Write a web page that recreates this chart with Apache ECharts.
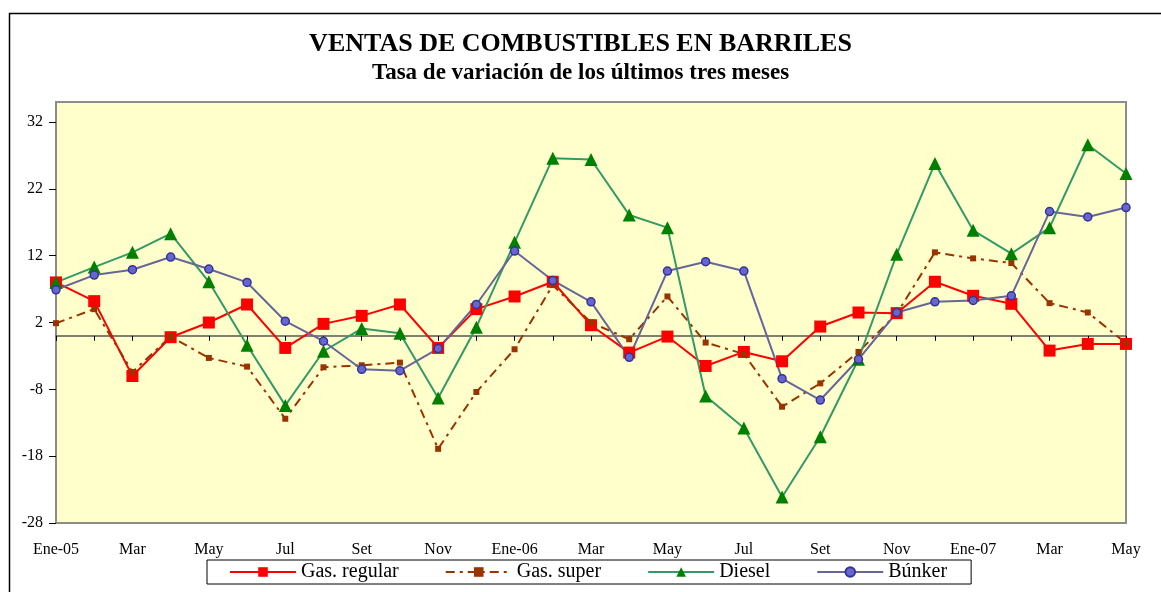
<!DOCTYPE html>
<html>
<head>
<meta charset="utf-8">
<script src="https://cdn.jsdelivr.net/npm/echarts@6/dist/echarts.min.js"></script>
<style>
html,body{margin:0;padding:0;background:#fff;}
#chart{width:1161px;height:592px;}
</style>
</head>
<body>
<div id="chart"></div>
<script>
const categories = ["Ene-05","Feb","Mar","Abr","May","Jun","Jul","Ago","Set","Oct","Nov","Dic",
  "Ene-06","Feb","Mar","Abr","May","Jun","Jul","Ago","Set","Oct","Nov","Dic",
  "Ene-07","Feb","Mar","Abr","May"];
const gasRegular = [8.0, 5.2, -6.0, -0.2, 2.0, 4.7, -1.8, 1.8, 3.0, 4.7,
  -1.8, 4.0, 5.9, 8.1, 1.6, -2.5, -0.1, -4.5, -2.4, -3.8,
  1.4, 3.5, 3.4, 8.1, 6.0, 4.8, -2.2, -1.2, -1.2];
const gasSuper = [1.9, 4.0, -5.4, -0.1, -3.3, -4.6, -12.4, -4.7, -4.4, -4.0,
  -16.9, -8.4, -2.0, 7.6, 2.0, -0.5, 5.9, -1.0, -2.7, -10.6,
  -7.1, -2.4, 3.3, 12.5, 11.6, 10.9, 4.9, 3.5, -1.1];
const diesel = [8.0, 10.3, 12.5, 15.3, 8.1, -1.4, -10.4, -2.3, 1.1, 0.4,
  -9.3, 1.3, 14.0, 26.6, 26.4, 18.1, 16.2, -9.0, -13.8, -24.1,
  -15.1, -3.5, 12.2, 25.8, 15.8, 12.3, 16.2, 28.6, 24.3];
const bunker = [6.9, 9.1, 9.9, 11.8, 10.0, 8.0, 2.2, -0.8, -5.0, -5.2,
  -1.9, 4.7, 12.7, 8.3, 5.1, -3.2, 9.7, 11.1, 9.7, -6.4,
  -9.6, -3.5, 3.5, 5.1, 5.3, 6.0, 18.6, 17.8, 19.2];
const seriesNames = ["Gas. regular", "Gas. super", "Diesel", "Búnker"];
const titleText = "VENTAS DE COMBUSTIBLES EN BARRILES";
const subtitleText = "Tasa de variación de los últimos tres meses";

const FONT = "Liberation Serif";
const chart = echarts.init(document.getElementById('chart'));
chart.setOption({
  animation: false,
  backgroundColor: '#fff',
  graphic: [{
    type: 'rect', left: 7, top: 11, z: -10,
    shape: { width: 1170, height: 600 },
    style: { fill: 'none', stroke: '#000', lineWidth: 1.5 }
  }],
  title: {
    text: titleText,
    subtext: subtitleText,
    left: 'center', top: 26, itemGap: 5,
    textStyle: { fontFamily: FONT, fontWeight: 'bold', fontSize: 26, color: '#000' },
    subtextStyle: { fontFamily: FONT, fontWeight: 'bold', fontSize: 23, color: '#000' }
  },
  legend: {
    data: seriesNames,
    left: 207, top: 560,
    padding: [2, 24, 2, 22],
    itemGap: 46, itemWidth: 66, itemHeight: 12,
    borderColor: '#000', borderWidth: 1,
    textStyle: { fontFamily: FONT, fontSize: 20, color: '#000' }
  },
  grid: {
    left: 56, right: 35, top: 102, bottom: 69,
    show: true, backgroundColor: '#FFFFCC', borderColor: '#8c8c8c', borderWidth: 2
  },
  xAxis: [{
    type: 'category', data: categories, boundaryGap: false,
    axisLine: { onZero: true, lineStyle: { color: '#555', width: 1.5 } },
    axisTick: { show: true, interval: 0, length: 5, lineStyle: { color: '#000' } },
    axisLabel: { show: false },
    splitLine: { show: false }
  }, {
    type: 'category', data: categories, boundaryGap: false, position: 'bottom',
    axisLine: { show: false, onZero: false },
    axisTick: { show: false },
    axisLabel: { interval: 1, margin: 19, fontFamily: FONT, fontSize: 16, color: '#000', showMaxLabel: true }
  }],
  yAxis: {
    type: 'value', min: -28, max: 35, interval: 10,
    axisLine: { show: true, lineStyle: { color: '#8c8c8c', width: 2 } },
    axisTick: { show: true, length: 7, lineStyle: { color: '#000' } },
    axisLabel: { margin: 13, fontFamily: FONT, fontSize: 16, color: '#000', showMaxLabel: false },
    splitLine: { show: false }
  },
  series: [{
    name: seriesNames[0], type: 'line', data: gasRegular,
    symbol: 'rect', symbolSize: 12,
    lineStyle: { color: '#FF0000', width: 2 },
    itemStyle: { color: '#FF0000' }
  }, {
    name: seriesNames[1], type: 'line', data: gasSuper,
    symbol: 'rect', symbolSize: 6,
    lineStyle: { color: '#993300', width: 2, type: [9, 5, 3, 5] },
    itemStyle: { color: '#993300' }
  }, {
    name: seriesNames[2], type: 'line', data: diesel,
    symbol: 'triangle', symbolSize: 13,
    lineStyle: { color: '#339966', width: 2 },
    itemStyle: { color: '#008000' }
  }, {
    name: seriesNames[3], type: 'line', data: bunker,
    symbol: 'circle', symbolSize: 8,
    lineStyle: { color: '#666699', width: 2 },
    itemStyle: { color: '#6666cc', borderColor: '#333399', borderWidth: 1.5 }
  }]
});
</script>
</body>
</html>
